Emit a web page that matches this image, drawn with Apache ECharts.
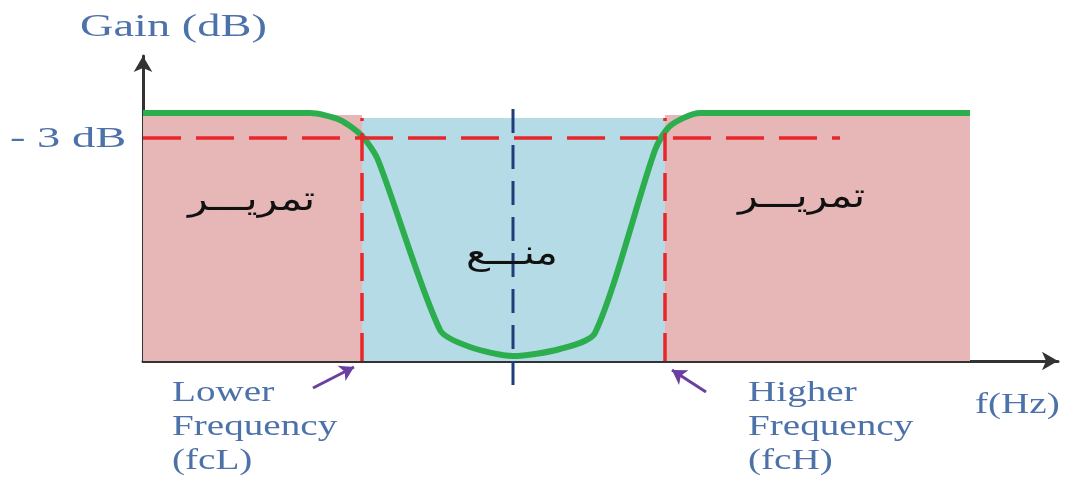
<!DOCTYPE html>
<html>
<head>
<meta charset="utf-8">
<script src="https://cdn.jsdelivr.net/npm/echarts@6/dist/echarts.min.js"></script>
<style>
  html, body { margin: 0; padding: 0; background: #fff; }
  #chart { width: 1078px; height: 493px; }
</style>
</head>
<body>
<div id="chart"></div>
<script>
// axis ranges (arbitrary units)
const X_MAX = 915;
const Y_MAX = 305;

// band-stop response
const curveX = [0, 167, 197, 219, 235, 297, 327, 370, 417, 452, 512, 527, 557, 827];
const curveY = [248, 248, 241, 225, 201, 31, 14, 5, 12, 28, 211, 235, 248, 248];

// pass / stop bands: [from, to, top]
const bandNames = ['تمريـــر', 'منـــع', 'تمريـــر'];
const bandEdges = [[0, 219, 246], [219, 522, 243], [522, 827, 246]];

// -3 dB level and cut-off frequencies
const level3dB = 223;
const level3dBEnd = 697;
const cutoffs = [219, 522];
const centerFreq = 370;

// pointer arrows under the axis: [x0, y0, x1, y1]
const pointers = [[170, -27, 211, -6], [563, -31, 529, -9]];

const TEXT_BLUE = '#4d72aa';
const SERIF = '"Liberation Serif", "DejaVu Serif", serif';
const ARABIC = '34px "DejaVu Sans"';

const chart = echarts.init(document.getElementById('chart'));

const axisCommon = {
  type: 'value',
  min: 0,
  splitLine: { show: false },
  axisTick: { show: false },
  axisLabel: { show: false },
  axisLine: {
    show: true,
    symbol: ['none', 'arrow'],
    symbolSize: [14, 16],
    lineStyle: { color: '#333', width: 3 },
  },
};

const bandColors = ['#e6b7b6', '#b5dbe7', '#e6b7b6'];

// arrow series, head rotated along the line (screen space, y up)
const pointerSeries = pointers.map((p) => {
  const rot = (Math.atan2(p[3] - p[1], p[2] - p[0]) * 180) / Math.PI - 90;
  return {
    type: 'line',
    data: [
      { value: [p[0], p[1]], symbol: 'none' },
      { value: [p[2], p[3]], symbol: 'arrow', symbolSize: [13, 14], symbolRotate: rot },
    ],
    clip: false,
    silent: true,
    z: 5,
    lineStyle: { color: '#6b3fa0', width: 3 },
    itemStyle: { color: '#6b3fa0' },
  };
});

const option = {
  animation: false,
  grid: { left: 143, right: 20, top: 56, bottom: 132 },
  xAxis: Object.assign({}, axisCommon, { max: X_MAX }),
  yAxis: Object.assign({}, axisCommon, { max: Y_MAX }),
  series: [
    {
      // shaded bands
      type: 'line',
      data: [],
      silent: true,
      z: 1,
      markArea: {
        silent: true,
        label: { show: false },
        data: bandEdges.map((b, i) => [
          { coord: [b[0], 0], itemStyle: { color: bandColors[i], opacity: 1 } },
          { coord: [b[1], b[2]] },
        ]),
      },
    },
    {
      // red dashed -3 dB line and cut-off lines
      type: 'line',
      data: [],
      silent: true,
      z: 2,
      markLine: {
        silent: true,
        symbol: 'none',
        label: { show: false },
        lineStyle: { color: '#e8262b', width: 3.5, type: [38, 15], opacity: 1 },
        data: [
          [{ coord: [0, level3dB] }, { coord: [level3dBEnd, level3dB] }],
          [{ coord: [cutoffs[0], 0], lineStyle: { type: [28, 12] } }, { coord: [cutoffs[0], bandEdges[1][2]] }],
          [{ coord: [cutoffs[1], 0], lineStyle: { type: [28, 12] } }, { coord: [cutoffs[1], bandEdges[1][2]] }],
        ],
      },
    },
    {
      name: 'Gain',
      type: 'line',
      data: curveX.map((x, i) => [x, curveY[i]]),
      showSymbol: false,
      smooth: 0.25,
      silent: true,
      z: 3,
      lineStyle: { color: '#2dae4e', width: 6 },
    },
    {
      // centre frequency
      type: 'line',
      data: [[centerFreq, -24], [centerFreq, 256]],
      showSymbol: false,
      clip: false,
      silent: true,
      z: 4,
      lineStyle: { color: '#1f3d78', width: 3, type: [24, 12] },
    },
  ].concat(pointerSeries),
  graphic: [
    { type: 'text', x: 80, y: 28, scaleX: 1.45, style: { text: 'Gain (dB)', font: '32px ' + SERIF, fill: TEXT_BLUE, verticalAlign: 'middle' } },
    { type: 'text', x: 10, y: 139, scaleX: 1.55, style: { text: '- 3 dB', font: '30px ' + SERIF, fill: TEXT_BLUE, verticalAlign: 'middle' } },
    { type: 'text', x: 172, y: 376, scaleX: 1.35, style: { text: 'Lower\nFrequency\n(fcL)', font: '29px ' + SERIF, lineHeight: 34, fill: TEXT_BLUE } },
    { type: 'text', x: 748, y: 376, scaleX: 1.35, style: { text: 'Higher\nFrequency\n(fcH)', font: '29px ' + SERIF, lineHeight: 34, fill: TEXT_BLUE } },
    { type: 'text', x: 975, y: 405, scaleX: 1.35, style: { text: 'f(Hz)', font: '29px ' + SERIF, fill: TEXT_BLUE, verticalAlign: 'middle' } },
    { type: 'text', x: 188, y: 201, z: 10, scaleX: 1.2, style: { text: bandNames[0], font: ARABIC, fill: '#111', verticalAlign: 'middle' } },
    { type: 'text', x: 466, y: 255, z: 10, scaleX: 1.2, style: { text: bandNames[1], font: ARABIC, fill: '#111', verticalAlign: 'middle' } },
    { type: 'text', x: 738, y: 198, z: 10, scaleX: 1.2, style: { text: bandNames[2], font: ARABIC, fill: '#111', verticalAlign: 'middle' } },
  ],
};

chart.setOption(option);
</script>
</body>
</html>
